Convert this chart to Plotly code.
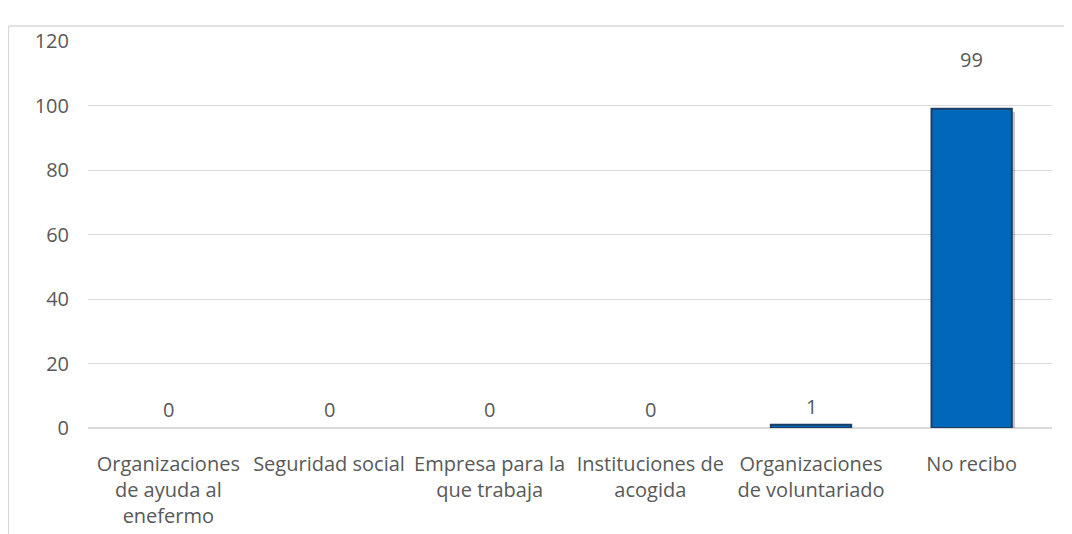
import plotly.graph_objects as go

categories = [
    "Organizaciones<br>de ayuda al<br>enefermo",
    "Seguridad social",
    "Empresa para la<br>que trabaja",
    "Instituciones de<br>acogida",
    "Organizaciones<br>de voluntariado",
    "No recibo",
]
values = [0, 0, 0, 0, 1, 99]
y_ticks = [0, 20, 40, 60, 80, 100, 120]

FONT = "Open Sans"
FS = 20
TXT = "#595959"

has_bar = [v > 0 for v in values]

fig = go.Figure()

# soft shadow under the bars
fig.add_trace(go.Bar(
    x=categories, y=values, width=0.5, offset=-0.23,
    base=[-1.0 if h else 0 for h in has_bar],
    marker=dict(color="rgba(0,0,0,0.22)", line=dict(width=0)),
    hoverinfo="skip", showlegend=False,
))
fig.add_trace(go.Bar(
    x=categories, y=values, width=0.5,
    marker=dict(color="#0068B8",
                line=dict(color="#1B3F66", width=[2 if h else 0 for h in has_bar])),
    showlegend=False,
))

for c, v in zip(categories, values):
    fig.add_annotation(
        x=c, y=v, text=str(v), showarrow=False,
        yanchor="bottom", yshift=(34 if v == max(values) else 3),
        font=dict(family=FONT, size=FS, color=TXT),
    )

fig.update_layout(
    width=1064, height=526,
    margin=dict(l=80, r=20, t=33, b=106),
    paper_bgcolor="white", plot_bgcolor="white",
    barmode="overlay",
    font=dict(family=FONT, size=FS, color=TXT),
    xaxis=dict(
        showgrid=False, showline=False, zeroline=False, automargin=False,
        tickfont=dict(family=FONT, size=FS, color=TXT),
        ticks="", ticklabelstandoff=22,
    ),
    yaxis=dict(
        range=[0, 120], tickvals=y_ticks, automargin=False,
        showgrid=True, gridcolor="#D9D9D9", gridwidth=1,
        zeroline=True, zerolinecolor="#D9D9D9", zerolinewidth=1.5,
        showline=False, ticks="",
        tickfont=dict(family=FONT, size=FS, color=TXT),
        ticklabelstandoff=18,
    ),
    shapes=[
        dict(type="line", xref="paper", yref="paper",
             x0=-0.0825, x1=1.2, y0=1.0388, y1=1.0388,
             line=dict(color="#D9D9D9", width=1.5)),
        dict(type="line", xref="paper", yref="paper",
             x0=-0.0825, x1=-0.0825, y0=1.0388, y1=-0.5,
             line=dict(color="#D9D9D9", width=1.5)),
    ],
)

fig.write_html("out.html")
